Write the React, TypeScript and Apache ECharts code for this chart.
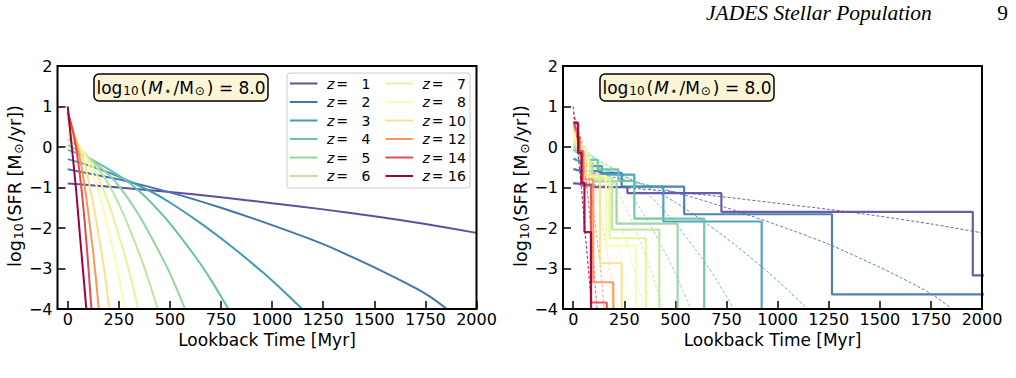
import React, { useEffect, useRef } from "react";
import * as echarts from "echarts";

// Redshifts and their Spectral_r colours
const redshifts = [1, 2, 3, 4, 5, 6, 7, 8, 10, 12, 14, 16];
const lineColors = [
  "#5e4fa2", "#4175b4", "#439bb5", "#66c2a5", "#94d4a4", "#bee5a0",
  "#e6f598", "#f7fcb2", "#fee08b", "#fa9857", "#df4e4b", "#9e0142",
];

const xTicks = [0, 250, 500, 750, 1000, 1250, 1500, 1750, 2000];
const yTicks = [-4, -3, -2, -1, 0, 1, 2];

// Model star-formation histories: [lookback time (Myr), log10 SFR]
const curveZ1 = [[0, -0.9], [100, -0.94], [250, -1.0], [500, -1.11], [750, -1.24], [1000, -1.39], [1250, -1.54], [1500, -1.71], [1750, -1.9], [2000, -2.12]];
const curveZ2 = [[0, -0.55], [100, -0.65], [250, -0.8], [500, -1.12], [750, -1.5], [1000, -1.93], [1250, -2.4], [1500, -2.97], [1600, -3.22], [1700, -3.48], [1780, -3.72], [1855, -4.0]];
const curveZ3 = [[0, -0.3], [100, -0.45], [250, -0.73], [400, -1.08], [500, -1.37], [650, -1.88], [800, -2.45], [960, -3.12], [1060, -3.58], [1147, -4.0]];
const curveZ4 = [[0, -0.07], [80, -0.22], [157, -0.42], [314, -0.93], [472, -1.72], [629, -2.74], [707, -3.33], [786, -4.0]];
const curveZ5 = [[0, 0.05], [60, -0.12], [115, -0.31], [230, -0.84], [344, -1.65], [459, -2.7], [517, -3.31], [574, -4.0]];
const curveZ6 = [[0, 0.2], [45, 0.03], [88, -0.18], [176, -0.72], [264, -1.56], [352, -2.66], [396, -3.29], [440, -4.0]];
const curveZ7 = [[0, 0.32], [35, 0.14], [69, -0.07], [138, -0.63], [207, -1.49], [276, -2.62], [311, -3.27], [345, -4.0]];
const curveZ8 = [[0, 0.44], [28, 0.26], [56, 0.04], [112, -0.54], [168, -1.42], [224, -2.58], [252, -3.25], [280, -4.0]];
const curveZ10 = [[0, 0.6], [20, 0.42], [41, 0.19], [82, -0.41], [122, -1.33], [163, -2.53], [184, -3.22], [204, -4.0]];
const curveZ12 = [[0, 0.73], [15, 0.55], [30, 0.32], [61, -0.31], [91, -1.26], [122, -2.49], [137, -3.2], [152, -4.0]];
const curveZ14 = [[0, 0.86], [12, 0.66], [23, 0.45], [46, -0.18], [70, -1.15], [93, -2.44], [104, -3.17], [116, -4.0]];
const curveZ16 = [[0, 1.0], [20, 0.0], [40, -1.0], [60, -2.2], [80, -3.35], [91, -4.0]];
const modelCurves = [curveZ1, curveZ2, curveZ3, curveZ4, curveZ5, curveZ6, curveZ7, curveZ8, curveZ10, curveZ12, curveZ14, curveZ16];

// Binned (non-parametric) histories: bin edges (Myr) and log10 SFR per bin
const binEdgesZ1 = [0, 10, 36, 98, 265, 725, 1955, 5300];
const binSfrZ1 = [-0.9, -0.91, -0.93, -0.99, -1.14, -1.6, -3.17];
const binEdgesZ2 = [0, 14, 30, 65, 131, 237, 543, 1266, 2960];
const binSfrZ2 = [-0.55, -0.57, -0.59, -0.6, -0.64, -0.98, -1.66, -3.64];
const binEdgesZ3 = [0, 14, 30, 65, 140, 299, 441, 922];
const binSfrZ3 = [-0.3, -0.33, -0.4, -0.47, -0.68, -0.98, -1.84];
const binEdgesZ4 = [0, 12, 28, 60, 120, 221, 299, 641];
const binSfrZ4 = [-0.08, -0.12, -0.2, -0.32, -0.55, -0.84, -1.77];
const binEdgesZ5 = [0, 12, 28, 55, 95, 212, 511];
const binSfrZ5 = [0.0, -0.1, -0.22, -0.4, -0.85, -1.89];
const binEdgesZ6 = [0, 10, 25, 50, 90, 190, 421];
const binSfrZ6 = [0.12, 0.0, -0.15, -0.38, -0.78, -2.04];
const binEdgesZ7 = [0, 10, 22, 45, 80, 178, 356];
const binSfrZ7 = [0.22, 0.1, -0.08, -0.32, -0.75, -2.25];
const binEdgesZ8 = [0, 10, 20, 40, 72, 160, 307];
const binSfrZ8 = [0.32, 0.2, 0.02, -0.25, -0.72, -2.44];
const binEdgesZ10 = [0, 10, 20, 35, 60, 131, 237];
const binSfrZ10 = [0.42, 0.3, 0.1, -0.2, -0.7, -2.87];
const binEdgesZ12 = [0, 10, 20, 30, 50, 98, 196];
const binSfrZ12 = [0.5, 0.38, 0.2, -0.1, -0.8, -3.34];
const binEdgesZ14 = [0, 10, 20, 30, 45, 87, 164];
const binSfrZ14 = [0.55, 0.45, 0.25, -0.1, -0.95, -3.84];
const binEdgesZ16 = [0, 24, 40, 55, 87];
const binSfrZ16 = [0.6, -0.15, -0.88, -2.1];
const binEdges = [binEdgesZ1, binEdgesZ2, binEdgesZ3, binEdgesZ4, binEdgesZ5, binEdgesZ6, binEdgesZ7, binEdgesZ8, binEdgesZ10, binEdgesZ12, binEdgesZ14, binEdgesZ16];
const binSfr = [binSfrZ1, binSfrZ2, binSfrZ3, binSfrZ4, binSfrZ5, binSfrZ6, binSfrZ7, binSfrZ8, binSfrZ10, binSfrZ12, binSfrZ14, binSfrZ16];

const stellarMassLabel = "8.0";

// Turn bin edges + values into a step outline that falls off the bottom after the last bin
function stepOutline(edges: number[], vals: number[]): number[][] {
  const pts: number[][] = [];
  vals.forEach((v, i) => {
    pts.push([edges[i], v]);
    pts.push([edges[i + 1], v]);
  });
  pts.push([edges[edges.length - 1], -8]);
  return pts;
}

const FONT = "DejaVu Sans";
const fmtTick = (v: number) => (v < 0 ? "\u2212" + Math.abs(v) : String(v));

const GRID_TOP = 66;
const GRID_H = 243;
const GRID_W = 419;
const PANEL_LEFT = [57.5, 563];

function axesFor(i: number) {
  const x = {
    type: "value",
    gridIndex: i,
    min: -50,
    max: 2000,
    name: "Lookback Time [Myr]",
    nameLocation: "middle",
    nameGap: 20,
    nameTextStyle: { fontFamily: FONT, fontSize: 17, color: "#000" },
    axisLine: { show: false, onZero: false },
    axisTick: { show: true, inside: true, length: 8, customValues: xTicks, lineStyle: { color: "#000", width: 1.5 } },
    axisLabel: { customValues: xTicks, fontFamily: FONT, fontSize: 16, color: "#000", margin: 2, hideOverlap: false, formatter: (v: number) => String(v) },
    splitLine: { show: false },
  };
  const y = {
    type: "value",
    gridIndex: i,
    min: -4,
    max: 2,
    interval: 1,
    axisLine: { show: false, onZero: false },
    axisTick: { show: true, inside: true, length: 8, customValues: yTicks, lineStyle: { color: "#000", width: 1.5 } },
    axisLabel: { customValues: yTicks, fontFamily: FONT, fontSize: 16, color: "#000", margin: 5, formatter: fmtTick },
    splitLine: { show: false },
  };
  return { x, y };
}

function annotationBox(left: number) {
  return {
    type: "group",
    x: left,
    y: 74,
    children: [
      { type: "rect", shape: { x: 0, y: 0, width: 174, height: 27, r: 5 }, style: { fill: "#fbf5d8", stroke: "#000", lineWidth: 1.5 } },
      {
        type: "text",
        x: 87,
        y: 13.5,
        style: {
          text: "{a|log}{s|10}{a|(}{i|M}{s|\u22c6}{a|/M}{s|\u2299}{a|) = " + stellarMassLabel + "}",
          textAlign: "center",
          textVerticalAlign: "middle",
          rich: {
            a: { fontFamily: FONT, fontSize: 17, fill: "#000", color: "#000" },
            i: { fontFamily: FONT, fontSize: 17, fontStyle: "italic", fill: "#000", color: "#000", padding: [0, 0, 0, 1] },
            s: { fontFamily: FONT, fontSize: 12, fill: "#000", color: "#000", padding: [7, 2, 0, 1] },
          },
        },
      },
    ],
  };
}

function yLabel(x: number) {
  return {
    type: "text",
    x,
    y: 186,
    rotation: Math.PI / 2,
    style: {
      text: "{a|log}{s|10}{a|(SFR [M}{s|\u2299}{a|/yr])}",
      textAlign: "center",
      textVerticalAlign: "middle",
      rich: {
        a: { fontFamily: FONT, fontSize: 17.5, fill: "#000", color: "#000" },
        s: { fontFamily: FONT, fontSize: 12.5, fill: "#000", color: "#000", padding: [7, 1, 0, 1] },
      },
    },
  };
}

function legendBox() {
  const children: any[] = [
    { type: "rect", shape: { x: 287, y: 73, width: 183, height: 115, r: 3 }, style: { fill: "rgba(255,255,255,0.85)", stroke: "#cccccc", lineWidth: 1 } },
  ];
  redshifts.forEach((z, k) => {
    const col = k < 6 ? 0 : 1;
    const row = k % 6;
    const y = 83.5 + row * 18.5;
    const lx = col === 0 ? 290 : 385.5;
    children.push({ type: "line", shape: { x1: lx, y1: y, x2: lx + 27.5, y2: y }, style: { stroke: lineColors[k], lineWidth: 2 } });
    children.push({
      type: "text",
      x: lx + 37,
      y,
      style: {
        text: "{i|z}{a|= " + (z < 10 ? "\u2007" : "") + z + "}",
        textVerticalAlign: "middle",
        rich: {
          i: { fontFamily: FONT, fontSize: 14, fontStyle: "italic", fill: "#000", color: "#000" },
          a: { fontFamily: FONT, fontSize: 14, fill: "#000", color: "#000", padding: [0, 0, 0, 2] },
        },
      },
    });
  });
  return { type: "group", children };
}

export default function App() {
  const ref = useRef<HTMLDivElement>(null);
  useEffect(() => {
    if (!ref.current) return;
    const chart = echarts.init(ref.current, undefined, { renderer: "svg" });
    const a0 = axesFor(0);
    const a1 = axesFor(1);
    const series: any[] = [];
    modelCurves.forEach((c, k) => {
      series.push({
        type: "line",
        xAxisIndex: 0,
        yAxisIndex: 0,
        data: c,
        smooth: 0.25,
        symbol: "none",
        clip: true,
        lineStyle: { color: lineColors[k], width: 2 },
        z: 2,
      });
    });
    modelCurves.forEach((c, k) => {
      series.push({
        type: "line",
        xAxisIndex: 1,
        yAxisIndex: 1,
        data: c,
        smooth: 0.25,
        symbol: "none",
        clip: true,
        lineStyle: { color: lineColors[k], width: 0.9, type: [3, 2] },
        z: 2,
      });
    });
    binEdges.forEach((e, k) => {
      series.push({
        type: "line",
        xAxisIndex: 1,
        yAxisIndex: 1,
        data: stepOutline(e, binSfr[k]),
        symbol: "none",
        clip: true,
        lineStyle: { color: lineColors[k], width: 2.2, opacity: 0.92 },
        z: 3,
      });
    });

    chart.setOption({
      animation: false,
      backgroundColor: "#ffffff",
      grid: PANEL_LEFT.map((l) => ({
        left: l,
        top: GRID_TOP,
        width: GRID_W,
        height: GRID_H,
        show: true,
        borderColor: "#000",
        borderWidth: 2,
        backgroundColor: "transparent",
        z: 10,
      })),
      xAxis: [a0.x, a1.x],
      yAxis: [a0.y, a1.y],
      series,
      graphic: [
        { type: "text", x: 706, y: 13, style: { text: "JADES Stellar Population", fontFamily: "Liberation Serif", fontStyle: "italic", fontSize: 21.5, fill: "#000", textVerticalAlign: "middle" } },
        { type: "text", x: 1008, y: 13, style: { text: "9", fontFamily: "Liberation Serif", fontSize: 21.5, fill: "#000", textAlign: "right", textVerticalAlign: "middle" } },
        yLabel(15),
        yLabel(521),
        annotationBox(94),
        annotationBox(600),
        legendBox(),
      ],
    });
    return () => chart.dispose();
  }, []);
  return <div ref={ref} style={{ position: "fixed", left: 0, top: 0, width: 1016, height: 378, background: "#fff" }} />;
}
